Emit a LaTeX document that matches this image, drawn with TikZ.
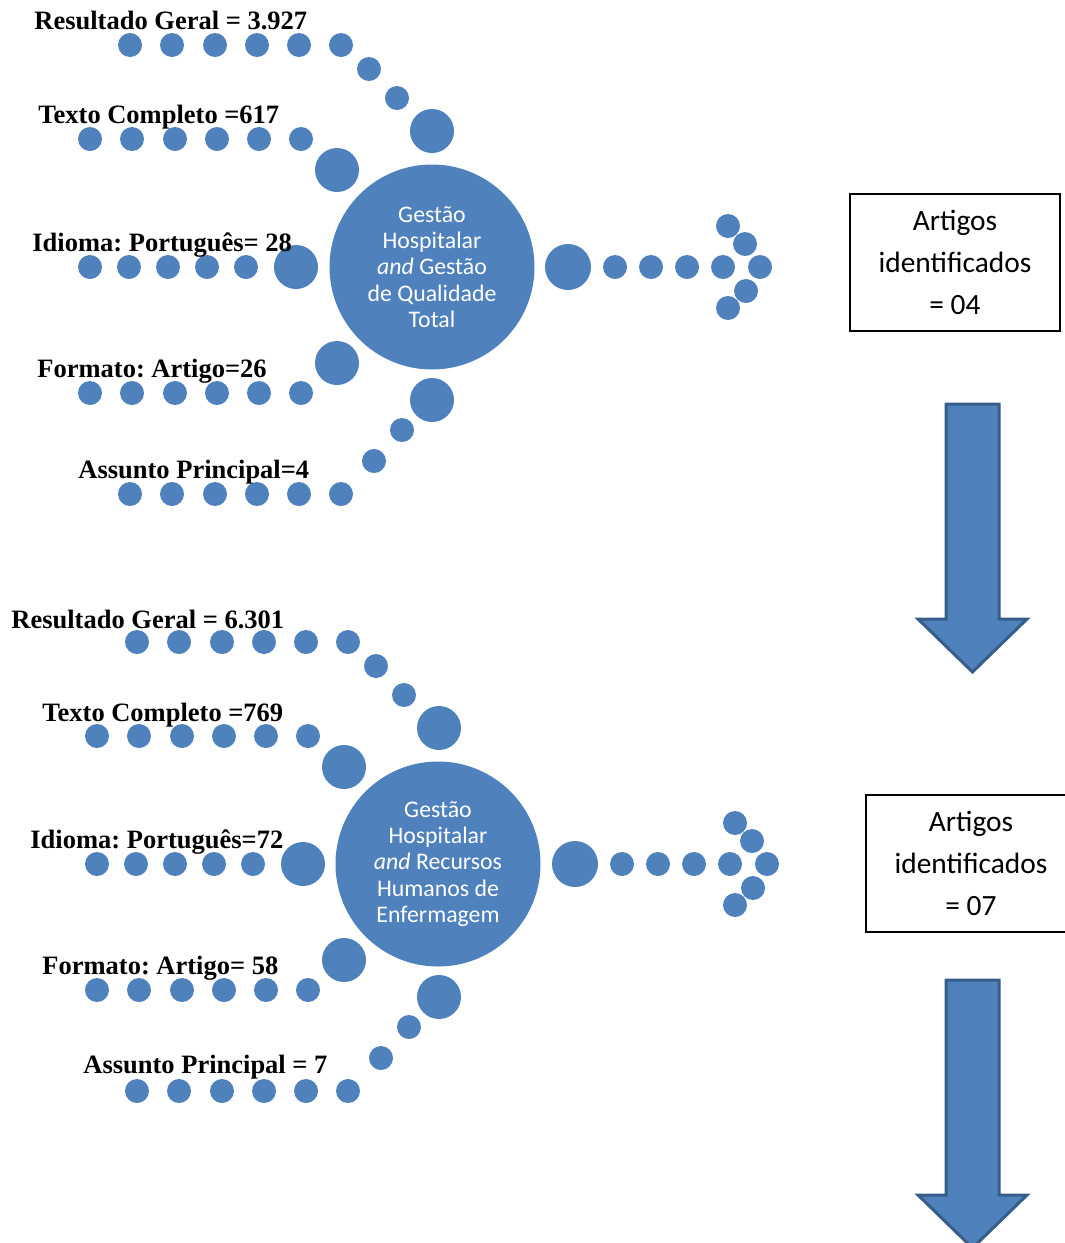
\documentclass[tikz,border=0pt]{standalone}
\usepackage{fontspec}
\setmainfont{Liberation Serif}
\newfontfamily\calibri{Carlito}
\definecolor{azul}{HTML}{4F81BD}
\definecolor{azulesc}{HTML}{385D8A}
\frenchspacing

\tikzset{
  bolha/.style={fill=azul},
  rotulo/.style={anchor=base west, inner sep=0pt, font=\bfseries\fontsize{13.25}{16}\selectfont},
  tema/.style={circle, fill=azul, minimum size=205pt*0.5, inner sep=0pt, text=white, align=center, font=\calibri\fontsize{11.9}{13.1}\selectfont},
  caixa/.style={draw, line width=1pt, minimum width=105pt, minimum height=68.5pt, align=center, font=\calibri\fontsize{14.7}{21}\selectfont},
  seta/.style={fill=azul, draw=azulesc, line width=1.5pt, line join=miter}
}

% the dotted fan round one subject circle
\newcommand{\bolhas}{%
  \foreach \x in {130,172,215,257,299,341} \fill[bolha] (\x,45) circle (12);
  \fill[bolha] (369,69) circle (12);
  \fill[bolha] (397,98) circle (12);
  \fill[bolha] (432,131) circle (22);
  \foreach \x in {90,132,175,217,259,301} \fill[bolha] (\x,139) circle (12);
  \fill[bolha] (337,170) circle (22);
  \foreach \x in {90,129,168,207,246} \fill[bolha] (\x,267) circle (12);
  \fill[bolha] (296,267) circle (22);
  \foreach \x in {90,132,175,217,259,301} \fill[bolha] (\x,393) circle (12);
  \fill[bolha] (337,363) circle (22);
  \foreach \x in {130,172,215,257,299,341} \fill[bolha] (\x,494) circle (12);
  \fill[bolha] (374,461) circle (12);
  \fill[bolha] (402,430) circle (12);
  \fill[bolha] (432,400) circle (22);
  % dots pointing right
  \fill[bolha] (568,267) circle (23);
  \foreach \x in {615,651,687,723,760} \fill[bolha] (\x,267) circle (12);
  \fill[bolha] (728,226) circle (12);
  \fill[bolha] (745,244) circle (12);
  \fill[bolha] (746,291) circle (12);
  \fill[bolha] (728,308) circle (12);
}

\begin{document}
\begin{tikzpicture}[x=0.5pt, y=-0.5pt]
\useasboundingbox (0,0) rectangle (1065,1243);

% first search
\bolhas
\node[tema] (tema1) at (432,267) {Gestão\\Hospitalar\\\textit{and} Gestão\\de Qualidade\\Total};
\node[rotulo] (res1) at (34,29) {Resultado Geral = 3.927};
\node[rotulo] (txt1) at (38,123) {Texto Completo =617};
\node[rotulo] (idi1) at (32,251) {Idioma: Português= 28};
\node[rotulo] (fmt1) at (37,377) {Formato: Artigo=26};
\node[rotulo] (ass1) at (78,478) {Assunto Principal=4};
\node[caixa] (art1) at (955,262) {Artigos\\identificados\\= 04};
\draw[seta] (946,404) -- (999,404) -- (999,619) -- (1027,619) -- (972.5,672) -- (918,619) -- (946,619) -- cycle;

% second search
\begin{scope}[shift={(7,597)}]
\bolhas
\end{scope}
\node[tema] (tema2) at (438,864) {Gestão\\Hospitalar\\\textit{and} Recursos\\Humanos de\\Enfermagem};
\node[rotulo] (res2) at (11,628) {Resultado Geral = 6.301};
\node[rotulo] (txt2) at (42,721) {Texto Completo =769};
\node[rotulo] (idi2) at (30,848) {Idioma: Português=72};
\node[rotulo] (fmt2) at (42,974) {Formato: Artigo= 58};
\node[rotulo] (ass2) at (83,1073) {Assunto Principal = 7};
\node[caixa] (art2) at (971,863) {Artigos\\identificados\\= 07};
\draw[seta] (946,980) -- (999,980) -- (999,1195) -- (1027,1195) -- (972.5,1248) -- (918,1195) -- (946,1195) -- cycle;
\end{tikzpicture}
\end{document}
